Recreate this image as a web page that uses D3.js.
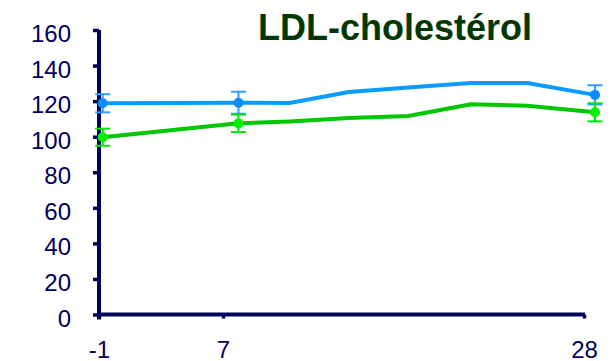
<!DOCTYPE html>
<html>
<head>
<meta charset="utf-8">
<script src="https://cdn.jsdelivr.net/npm/d3@7/dist/d3.min.js"></script>
<style>
  html, body { margin: 0; padding: 0; background: #fff; }
  svg { display: block; font-family: "Liberation Sans", Arial, sans-serif; }
</style>
</head>
<body>
<svg id="chart" width="613" height="361"></svg>
<script>
// Study days (x) and LDL-cholesterol values for the two groups
const days = [-1, 7, 10, 13.5, 17, 20.7, 24, 28];
const blueValues = [118.8, 119.1, 118.9, 125.1, 127.7, 130.2, 130.2, 123.5];
const greenValues = [99.7, 107.5, 108.6, 110.5, 111.6, 118.2, 117.4, 113.7];

// Measured visits with error bars (mean ± error)
const errorDays = [-1, 7, 28];
const blueErrors = [5.1, 6.2, 5.4];
const greenErrors = [4.8, 4.9, 5.1];

// Axis labels
const xTickLabels = [-1, 7, 28];
const yTickLabels = [0, 20, 40, 60, 80, 100, 120, 140, 160];
const title = "LDL-cholestérol";

const navy = "#00005e";
const svg = d3.select("#chart");

// Scales: one for the plotted series, one for the drawn time axis
const x = d3.scaleLinear().domain([-1, 28]).range([102.7, 595]);
const axisX = d3.scaleLinear().domain([-1, 7, 28]).range([99, 223, 584]);
const y = d3.scaleLinear().domain([0, 160]).range([314.5, 30]);

// Y axis
const yAxis = svg.append("g")
  .attr("transform", `translate(${axisX(-1)},0)`)
  .call(d3.axisLeft(y).tickValues(yTickLabels).tickFormat(d => String(d))
    .tickSize(6).tickSizeOuter(0).tickPadding(22));
yAxis.select(".domain").remove();
yAxis.selectAll(".tick line").attr("stroke", navy).attr("stroke-width", 3.5);
yAxis.selectAll(".tick text")
  .attr("fill", navy).attr("font-size", 24).attr("dy", "0.48em")
  .attr("font-family", "'Liberation Sans', Arial, sans-serif");

// X axis (plain hyphen for the negative day)
const xAxis = svg.append("g")
  .attr("transform", `translate(0,${y(0)})`)
  .call(d3.axisBottom(axisX).tickValues(xTickLabels).tickFormat(d => String(d))
    .tickSize(4).tickSizeOuter(0));
xAxis.select(".domain").remove();
xAxis.selectAll(".tick line").attr("stroke", navy).attr("stroke-width", 3.5);
xAxis.selectAll(".tick text")
  .attr("fill", navy).attr("font-size", 24).attr("y", 43).attr("dy", 0)
  .attr("font-family", "'Liberation Sans', Arial, sans-serif");

// Axis lines
svg.append("line")
  .attr("x1", axisX(-1)).attr("x2", axisX(-1))
  .attr("y1", y(160)).attr("y2", y(0) + 5)
  .attr("stroke", navy).attr("stroke-width", 4);
svg.append("line")
  .attr("x1", axisX(-1) - 2).attr("x2", axisX(28) + 1)
  .attr("y1", y(0)).attr("y2", y(0))
  .attr("stroke", navy).attr("stroke-width", 4);

// Series
const line = d3.line().x((d, i) => x(days[i])).y(d => y(d));

const series = [
  { values: blueValues, errors: blueErrors, line: "#0a9bff", marker: "#0a8cff", bar: "#2f9dff" },
  { values: greenValues, errors: greenErrors, line: "#00c800", marker: "#00f000", bar: "#00e600" }
];

series.forEach(s => {
  svg.append("path")
    .attr("d", line(s.values))
    .attr("fill", "none")
    .attr("stroke", s.line)
    .attr("stroke-width", 4)
    .attr("stroke-linejoin", "round");
});

series.forEach(s => {
  const pts = errorDays.map((d, i) => ({ day: d, value: s.values[days.indexOf(d)], err: s.errors[i] }));
  const g = svg.append("g");
  pts.forEach(p => {
    const cx = x(p.day);
    g.append("line").attr("x1", cx).attr("x2", cx)
      .attr("y1", y(p.value - p.err)).attr("y2", y(p.value + p.err))
      .attr("stroke", s.bar).attr("stroke-width", 2);
    [p.value - p.err, p.value + p.err].forEach(v => {
      g.append("line").attr("x1", cx - 7.5).attr("x2", cx + 7.5)
        .attr("y1", y(v)).attr("y2", y(v))
        .attr("stroke", s.bar).attr("stroke-width", 2);
    });
    g.append("circle").attr("cx", cx).attr("cy", y(p.value)).attr("r", 5)
      .attr("fill", s.marker);
  });
});

// Title
svg.append("text")
  .attr("x", 258).attr("y", 40)
  .attr("font-size", 36).attr("font-weight", "bold")
  .attr("fill", "#003800")
  .text(title);
</script>
</body>
</html>
